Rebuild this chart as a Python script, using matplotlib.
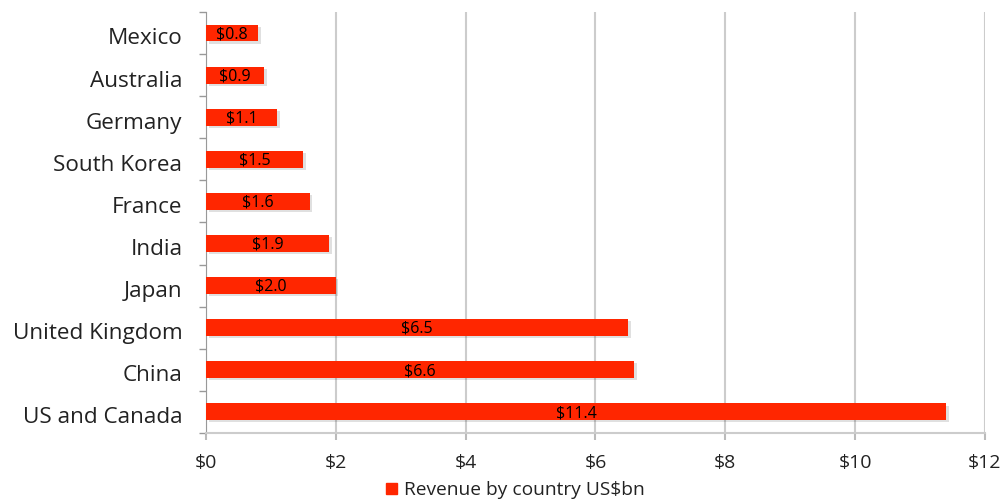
import matplotlib
matplotlib.use("Agg")
import matplotlib.pyplot as plt
import numpy as np
from matplotlib.patches import Patch

countries = ["Mexico", "Australia", "Germany", "South Korea", "France", "India",
             "Japan", "United Kingdom", "China", "US and Canada"]
revenue = [0.8, 0.9, 1.1, 1.5, 1.6, 1.9, 2.0, 6.5, 6.6, 11.4]
x_ticks = [0, 2, 4, 6, 8, 10, 12]
x_tick_labels = ["$0", "$2", "$4", "$6", "$8", "$10", "$12"]
legend_label = "Revenue by country US$bn"

plt.rcParams['font.family'] = ['Open Sans', 'DejaVu Sans']

fig = plt.figure(figsize=(10.07, 5.01), dpi=100)
ax = fig.add_axes([0.2046, 0.136, 0.7735, 0.840])

bar_color = "#FF2600"
text_color = "#222222"
y = np.arange(len(countries))
# subtle shadow
ax.barh(y + 0.05, revenue, height=0.4, left=0.04, color="#000000", alpha=0.12, zorder=2)
bars = ax.barh(y, revenue, height=0.4, color=bar_color, zorder=3)

for yi, v in zip(y, revenue):
    ax.text(v / 2, yi + 0.03, f"${v:.1f}", ha="center", va="center", fontsize=11.5,
            color="black", zorder=4)

ax.set_ylim(len(countries) - 0.5, -0.5)
ax.set_xlim(0, 12)
ax.set_xticks(x_ticks)
ax.set_xticklabels(x_tick_labels, fontsize=14, color=text_color)
ax.set_yticks(y + 0.08)
ax.set_yticklabels(countries, fontsize=16.2, color=text_color)
ax.tick_params(axis='y', which='major', length=0, pad=17)
ax.set_yticks(np.arange(-0.5, len(countries), 1), minor=True)
ax.tick_params(axis='y', which='minor', length=5, color="#999999", width=1)
ax.tick_params(axis='x', which='major', length=5, color="#bbbbbb", width=1.5, pad=10)

ax.grid(axis='x', color="#cccccc", linewidth=1.5, zorder=0)
for s in ['top', 'right']:
    ax.spines[s].set_visible(False)
ax.spines['left'].set_color("#999999")
ax.spines['bottom'].set_color("#cccccc")
ax.spines['bottom'].set_linewidth(1.5)

fig.legend(handles=[Patch(color=bar_color, label=legend_label)], loc="center",
           bbox_to_anchor=(0.512, 0.021), frameon=False, fontsize=13.8,
           handlelength=0.55, handleheight=0.55, handletextpad=0.4,
           labelcolor=text_color)

fig.savefig("out.png", dpi=100)
